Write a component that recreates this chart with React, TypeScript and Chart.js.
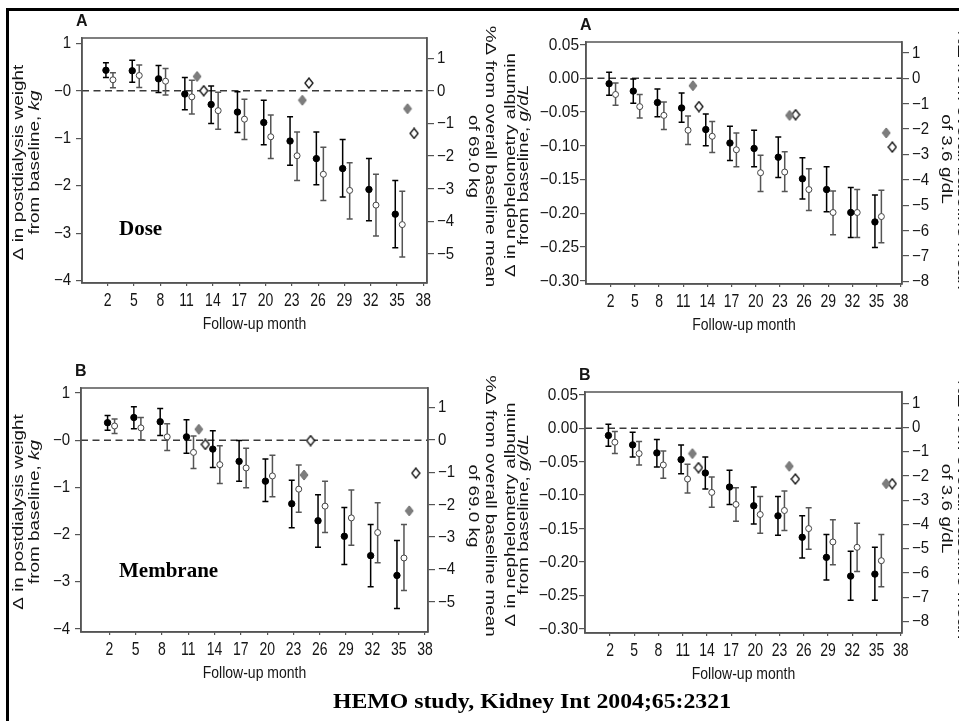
import React, { useEffect, useRef } from "react";
import { Chart, registerables } from "chart.js";

Chart.register(...registerables);

// ---------------- DATA ----------------
const months = [2, 5, 8, 11, 14, 17, 20, 23, 26, 29, 32, 35];
const diamondMonths = [12, 24, 36];
const xTickValues = [2, 5, 8, 11, 14, 17, 20, 23, 26, 29, 32, 35, 38];
const xTickLabels = ["2", "5", "8", "11", "14", "17", "20", "23", "26", "29", "32", "35", "38"];

const weightTicks = [1, 0, -1, -2, -3, -4];
const weightTickLabels = ["1", "\u22120", "\u22121", "\u22122", "\u22123", "\u22124"];
const weightPctTicks = [1, 0, -1, -2, -3, -4, -5];
const weightPctTickLabels = ["1", "0", "\u22121", "\u22122", "\u22123", "\u22124", "\u22125"];
const albTicks = [0.05, 0, -0.05, -0.1, -0.15, -0.2, -0.25, -0.3];
const albTickLabels = ["0.05", "0.00", "\u22120.05", "\u22120.10", "\u22120.15", "\u22120.20", "\u22120.25", "\u22120.30"];
const albPctTicks = [1, 0, -1, -2, -3, -4, -5, -6, -7, -8];
const albPctTickLabels = ["1", "0", "\u22121", "\u22122", "\u22123", "\u22124", "\u22125", "\u22126", "\u22127", "\u22128"];

// Panel A (Dose) - postdialysis weight, kg
const doseWeightFilled = [0.43, 0.42, 0.25, -0.07, -0.29, -0.45, -0.67, -1.06, -1.43, -1.64, -2.08, -2.6];
const doseWeightFilledLow = [0.28, 0.18, -0.04, -0.4, -0.69, -0.88, -1.14, -1.57, -1.98, -2.24, -2.74, -3.31];
const doseWeightFilledHigh = [0.59, 0.64, 0.53, 0.28, 0.1, -0.02, -0.2, -0.55, -0.87, -1.03, -1.43, -1.89];
const doseWeightOpen = [0.23, 0.32, 0.2, -0.13, -0.42, -0.6, -0.97, -1.37, -1.76, -2.1, -2.41, -2.82];
const doseWeightOpenLow = [0.06, 0.07, -0.09, -0.49, -0.81, -1.03, -1.43, -1.89, -2.31, -2.7, -3.06, -3.5];
const doseWeightOpenHigh = [0.38, 0.54, 0.47, 0.22, -0.03, -0.18, -0.51, -0.87, -1.19, -1.52, -1.76, -2.12];
const doseWeightDiamondGray = [0.3, -0.2, -0.38];
const doseWeightDiamondOpen = [0.0, 0.16, -0.9];

// Panel A (Dose) - nephelometry albumin, g/dL
const doseAlbFilled = [-0.008, -0.019, -0.036, -0.044, -0.076, -0.096, -0.104, -0.117, -0.149, -0.165, -0.199, -0.213];
const doseAlbFilledLow = [-0.025, -0.037, -0.057, -0.065, -0.1, -0.122, -0.131, -0.147, -0.179, -0.198, -0.236, -0.251];
const doseAlbFilledHigh = [0.009, -0.001, -0.016, -0.022, -0.053, -0.071, -0.077, -0.087, -0.118, -0.131, -0.162, -0.173];
const doseAlbOpen = [-0.024, -0.042, -0.055, -0.077, -0.086, -0.106, -0.14, -0.139, -0.165, -0.199, -0.199, -0.205];
const doseAlbOpenLow = [-0.04, -0.059, -0.076, -0.098, -0.11, -0.131, -0.168, -0.168, -0.196, -0.232, -0.236, -0.244];
const doseAlbOpenHigh = [-0.007, -0.024, -0.035, -0.056, -0.064, -0.081, -0.114, -0.109, -0.134, -0.167, -0.165, -0.166];
const doseAlbDiamondGray = [-0.011, -0.055, -0.081];
const doseAlbDiamondOpen = [-0.042, -0.054, -0.102];

// Panel B (Membrane) - postdialysis weight, kg
const memWeightFilled = [0.37, 0.48, 0.39, 0.07, -0.19, -0.45, -0.87, -1.35, -1.71, -2.04, -2.45, -2.87];
const memWeightFilledLow = [0.21, 0.24, 0.1, -0.28, -0.58, -0.87, -1.3, -1.86, -2.27, -2.64, -3.11, -3.57];
const memWeightFilledHigh = [0.52, 0.71, 0.67, 0.43, 0.2, -0.01, -0.4, -0.85, -1.16, -1.43, -1.79, -2.13];
const memWeightOpen = [0.3, 0.26, 0.07, -0.26, -0.52, -0.59, -0.76, -1.04, -1.4, -1.65, -1.96, -2.5];
const memWeightOpenLow = [0.14, 0.01, -0.22, -0.6, -0.92, -1.01, -1.2, -1.53, -1.96, -2.23, -2.6, -3.19];
const memWeightOpenHigh = [0.45, 0.48, 0.35, 0.09, -0.12, -0.17, -0.32, -0.53, -0.87, -1.06, -1.33, -1.79];
const memWeightDiamondGray = [0.23, -0.74, -1.5];
const memWeightDiamondOpen = [-0.09, -0.01, -0.7];

// Panel B (Membrane) - nephelometry albumin, g/dL
const memAlbFilled = [-0.011, -0.025, -0.037, -0.047, -0.067, -0.088, -0.116, -0.131, -0.163, -0.193, -0.221, -0.218];
const memAlbFilledLow = [-0.027, -0.043, -0.058, -0.068, -0.091, -0.114, -0.143, -0.16, -0.194, -0.227, -0.257, -0.257];
const memAlbFilledHigh = [0.006, -0.006, -0.017, -0.025, -0.043, -0.063, -0.088, -0.102, -0.131, -0.159, -0.184, -0.178];
const memAlbOpen = [-0.021, -0.038, -0.055, -0.076, -0.096, -0.114, -0.129, -0.123, -0.15, -0.17, -0.178, -0.198];
const memAlbOpenLow = [-0.038, -0.055, -0.075, -0.097, -0.118, -0.139, -0.157, -0.153, -0.181, -0.204, -0.214, -0.237];
const memAlbOpenHigh = [-0.005, -0.02, -0.034, -0.054, -0.073, -0.089, -0.102, -0.094, -0.119, -0.137, -0.142, -0.159];
const memAlbDiamondGray = [-0.038, -0.057, -0.083];
const memAlbDiamondOpen = [-0.059, -0.076, -0.083];

// ---------------- STYLE ----------------
const TEXT = "#151515";
const AXIS = "#555";
const SANS = '"Liberation Sans", Arial, Helvetica, sans-serif';
const SERIF = '"Liberation Serif", "Times New Roman", serif';
const OFF_FILLED = -0.2;
const OFF_OPEN = 0.6;
const OFF_DGRAY = 0.2;
const OFF_DOPEN = 0.95;

type Seg = { t: string; italic?: boolean };

interface PanelSpec {
  key: string;
  canvas: { x: number; y: number; w: number; h: number };
  area: { L: number; T: number; R: number; B: number };
  xRange: [number, number];
  yRange: [number, number];
  y2Range: [number, number];
  yTicks: number[];
  yLabels: string[];
  yFont: number;
  yGap: number;
  y2Ticks: number[];
  y2Labels: string[];
  filled: number[];
  filledLow: number[];
  filledHigh: number[];
  open: number[];
  openLow: number[];
  openHigh: number[];
  dGray: number[];
  dOpen: number[];
  letter: string;
  leftTitle: Seg[][];
  leftOff: [number, number];
  rightTitle: Seg[][];
  rightOff: [number, number];
  tag?: { text: string; x: number; base: number };
}

const panels: PanelSpec[] = [
  {
    key: "tl",
    canvas: { x: 0, y: 0, w: 505, h: 345 },
    area: { L: 82, T: 38, R: 427, B: 283 },
    xRange: [-0.93, 38.42],
    yRange: [-4.05, 1.11],
    y2Range: [-5.89, 1.62],
    yTicks: weightTicks, yLabels: weightTickLabels, yFont: 15, yGap: 11,
    y2Ticks: weightPctTicks, y2Labels: weightPctTickLabels,
    filled: doseWeightFilled, filledLow: doseWeightFilledLow, filledHigh: doseWeightFilledHigh,
    open: doseWeightOpen, openLow: doseWeightOpenLow, openHigh: doseWeightOpenHigh,
    dGray: doseWeightDiamondGray, dOpen: doseWeightDiamondOpen,
    letter: "A",
    leftTitle: [[{ t: "\u0394 in postdialysis weight" }], [{ t: "from baseline, " }, { t: "kg", italic: true }]],
    leftOff: [63, 47],
    rightTitle: [[{ t: "%\u0394 from overall baseline mean" }], [{ t: "of 69.0 kg" }]],
    rightOff: [63, 46],
    tag: { text: "Dose", x: 119, base: 235 },
  },
  {
    key: "tr",
    canvas: { x: 480, y: 0, w: 479, h: 345 },
    area: { L: 586, T: 42, R: 902, B: 284 },
    xRange: [-1.07, 38.16],
    yRange: [-0.305, 0.0538],
    y2Range: [-8.1, 1.43],
    yTicks: albTicks, yLabels: albTickLabels, yFont: 15.5, yGap: 7,
    y2Ticks: albPctTicks, y2Labels: albPctTickLabels,
    filled: doseAlbFilled, filledLow: doseAlbFilledLow, filledHigh: doseAlbFilledHigh,
    open: doseAlbOpen, openLow: doseAlbOpenLow, openHigh: doseAlbOpenHigh,
    dGray: doseAlbDiamondGray, dOpen: doseAlbDiamondOpen,
    letter: "A",
    leftTitle: [[{ t: "\u0394 in nephelometry albumin" }], [{ t: "from baseline, " }, { t: "g/dL", italic: true }]],
    leftOff: [75, 62],
    rightTitle: [[{ t: "%\u0394 from overall baseline mean" }], [{ t: "of 3.6 g/dL" }]],
    rightOff: [60, 44],
  },
  {
    key: "bl",
    canvas: { x: 0, y: 345, w: 505, h: 376 },
    area: { L: 81, T: 388, R: 428, B: 632 },
    xRange: [-1.23, 38.34],
    yRange: [-4.07, 1.106],
    y2Range: [-5.93, 1.6],
    yTicks: weightTicks, yLabels: weightTickLabels, yFont: 15, yGap: 11,
    y2Ticks: weightPctTicks, y2Labels: weightPctTickLabels,
    filled: memWeightFilled, filledLow: memWeightFilledLow, filledHigh: memWeightFilledHigh,
    open: memWeightOpen, openLow: memWeightOpenLow, openHigh: memWeightOpenHigh,
    dGray: memWeightDiamondGray, dOpen: memWeightDiamondOpen,
    letter: "B",
    leftTitle: [[{ t: "\u0394 in postdialysis weight" }], [{ t: "from baseline, " }, { t: "kg", italic: true }]],
    leftOff: [62, 46],
    rightTitle: [[{ t: "%\u0394 from overall baseline mean" }], [{ t: "of 69.0 kg" }]],
    rightOff: [62, 45],
    tag: { text: "Membrane", x: 119, base: 577 },
  },
  {
    key: "br",
    canvas: { x: 480, y: 345, w: 479, h: 376 },
    area: { L: 585, T: 392, R: 902, B: 633 },
    xRange: [-1.1, 38.16],
    yRange: [-0.306, 0.054],
    y2Range: [-8.48, 1.46],
    yTicks: albTicks, yLabels: albTickLabels, yFont: 15.5, yGap: 7,
    y2Ticks: albPctTicks, y2Labels: albPctTickLabels,
    filled: memAlbFilled, filledLow: memAlbFilledLow, filledHigh: memAlbFilledHigh,
    open: memAlbOpen, openLow: memAlbOpenLow, openHigh: memAlbOpenHigh,
    dGray: memAlbDiamondGray, dOpen: memAlbDiamondOpen,
    letter: "B",
    leftTitle: [[{ t: "\u0394 in nephelometry albumin" }], [{ t: "from baseline, " }, { t: "g/dL", italic: true }]],
    leftOff: [74, 61],
    rightTitle: [[{ t: "%\u0394 from overall baseline mean" }], [{ t: "of 3.6 g/dL" }]],
    rightOff: [60, 44],
  },
];

// ---------------- helpers ----------------
function makeDiamond(fill: string, stroke: string, lw: number) {
  const c = document.createElement("canvas");
  c.width = 10;
  c.height = 12;
  const g = c.getContext("2d")!;
  g.beginPath();
  g.moveTo(5, 1);
  g.lineTo(9, 6);
  g.lineTo(5, 11);
  g.lineTo(1, 6);
  g.closePath();
  g.fillStyle = fill;
  g.fill();
  g.lineWidth = lw;
  g.strokeStyle = stroke;
  g.stroke();
  return c;
}

function drawStretched(
  ctx: CanvasRenderingContext2D, text: string, x: number, y: number,
  align: CanvasTextAlign, baseline: CanvasTextBaseline, font: string, sx: number, sy: number
) {
  ctx.save();
  ctx.translate(x, y);
  ctx.scale(sx, sy);
  ctx.font = font;
  ctx.textAlign = align;
  ctx.textBaseline = baseline;
  ctx.fillText(text, 0, 0);
  ctx.restore();
}

function drawRotatedRich(
  ctx: CanvasRenderingContext2D, segs: Seg[], cx: number, cy: number, angle: number, stretch: number, size: number
) {
  ctx.save();
  ctx.translate(cx, cy);
  ctx.rotate(angle);
  ctx.scale(stretch, 1);
  ctx.textBaseline = "middle";
  ctx.textAlign = "left";
  let total = 0;
  const fonts = segs.map((s) => `${s.italic ? "italic " : ""}${size}px ${SANS}`);
  const widths = segs.map((s, i) => {
    ctx.font = fonts[i];
    const w = ctx.measureText(s.t).width;
    total += w;
    return w;
  });
  let x = -total / 2;
  segs.forEach((s, i) => {
    ctx.font = fonts[i];
    ctx.fillText(s.t, x, 0);
    x += widths[i];
  });
  ctx.restore();
}

function buildConfig(spec: PanelSpec): any {
  const { canvas, area } = spec;
  const grayD = makeDiamond("#7d7d7d", "#6f6f6f", 1);
  const openD = makeDiamond("#ffffff", "#111111", 1.3);

  const panelPlugin = {
    id: "panelDecor_" + spec.key,
    beforeDatasetsDraw(chart: any) {
      const ctx: CanvasRenderingContext2D = chart.ctx;
      const { left, right } = chart.chartArea;
      const ys = chart.scales.y;
      const xs = chart.scales.x;
      // zero reference line
      ctx.save();
      ctx.strokeStyle = "#3a3a3a";
      ctx.lineWidth = 1.5;
      ctx.setLineDash([7, 4.5]);
      const y0 = ys.getPixelForValue(0);
      ctx.beginPath();
      ctx.moveTo(left, y0);
      ctx.lineTo(right, y0);
      ctx.stroke();
      ctx.restore();
      // error bars
      chart.data.datasets.forEach((ds: any) => {
        if (!ds.errLow) return;
        ctx.save();
        ctx.strokeStyle = ds.errColor;
        ctx.lineWidth = 1.5;
        ds.data.forEach((p: any, i: number) => {
          const px = xs.getPixelForValue(p.x);
          const pl = ys.getPixelForValue(ds.errLow[i]);
          const ph = ys.getPixelForValue(ds.errHigh[i]);
          ctx.beginPath();
          ctx.moveTo(px, ph);
          ctx.lineTo(px, pl);
          ctx.moveTo(px - 3, ph);
          ctx.lineTo(px + 3, ph);
          ctx.moveTo(px - 3, pl);
          ctx.lineTo(px + 3, pl);
          ctx.stroke();
        });
        ctx.restore();
      });
    },
    afterDraw(chart: any) {
      const ctx: CanvasRenderingContext2D = chart.ctx;
      const { left, right, top, bottom } = chart.chartArea;
      const xs = chart.scales.x;
      const ys = chart.scales.y;
      const y2 = chart.scales.y2;
      // plot frame
      ctx.save();
      ctx.strokeStyle = AXIS;
      ctx.lineWidth = 1.5;
      ctx.strokeRect(left, top, right - left, bottom - top);
      ctx.restore();

      ctx.save();
      ctx.fillStyle = TEXT;
      const yFont = `${spec.yFont}px ${SANS}`;
      spec.yTicks.forEach((v, i) => {
        drawStretched(ctx, spec.yLabels[i], left - spec.yGap, ys.getPixelForValue(v) + 0.5, "right", "middle", yFont, 1, 1.04);
      });
      const y2Font = `15px ${SANS}`;
      spec.y2Ticks.forEach((v, i) => {
        drawStretched(ctx, spec.y2Labels[i], right + 10, y2.getPixelForValue(v) + 0.5, "left", "middle", y2Font, 1, 1.05);
      });
      const xFont = `14px ${SANS}`;
      xTickValues.forEach((v, i) => {
        drawStretched(ctx, xTickLabels[i], xs.getPixelForValue(v), bottom + 23, "center", "alphabetic", xFont, 1, 1.3);
      });
      // x title
      drawStretched(ctx, "Follow-up month", (left + right) / 2, bottom + 46, "center", "alphabetic", `14px ${SANS}`, 1, 1.2);
      // y titles
      const cy = (top + bottom) / 2;
      spec.leftTitle.forEach((line, i) => {
        drawRotatedRich(ctx, line, left - spec.leftOff[i], cy + 2, -Math.PI / 2, 1.35, 14);
      });
      spec.rightTitle.forEach((line, i) => {
        drawRotatedRich(ctx, line, right + spec.rightOff[i], cy - 4, Math.PI / 2, 1.35, 14);
      });
      // panel letter
      drawStretched(ctx, spec.letter, left - 6, top - 12, "left", "alphabetic", `bold 16px ${SANS}`, 1, 1.05);
      // panel tag
      if (spec.tag) {
        ctx.font = `bold 21px ${SERIF}`;
        ctx.fillStyle = "#000";
        ctx.textAlign = "left";
        ctx.textBaseline = "alphabetic";
        ctx.fillText(spec.tag.text, spec.tag.x - canvas.x, spec.tag.base - canvas.y);
      }
      ctx.restore();
    },
  };

  const axisGrid = (len: number) => ({
    drawOnChartArea: false,
    drawTicks: true,
    tickLength: len,
    color: AXIS,
    lineWidth: 1.2,
  });
  const border = { display: true, color: AXIS, width: 1.5 };

  return {
    type: "scatter",
    data: {
      datasets: [
        {
          label: "filled",
          data: months.map((m, i) => ({ x: m + OFF_FILLED, y: spec.filled[i] })),
          errLow: spec.filledLow,
          errHigh: spec.filledHigh,
          errColor: "#000",
          pointRadius: 3.2,
          pointBackgroundColor: "#000",
          pointBorderColor: "#000",
          pointBorderWidth: 1,
        },
        {
          label: "open",
          data: months.map((m, i) => ({ x: m + OFF_OPEN, y: spec.open[i] })),
          errLow: spec.openLow,
          errHigh: spec.openHigh,
          errColor: "#555",
          pointRadius: 3,
          pointBackgroundColor: "#fff",
          pointBorderColor: "#444",
          pointBorderWidth: 1,
        },
        {
          label: "annual gray",
          data: diamondMonths.map((m, i) => ({ x: m + OFF_DGRAY, y: spec.dGray[i] })),
          pointStyle: grayD,
          pointRadius: 5,
        },
        {
          label: "annual open",
          data: diamondMonths.map((m, i) => ({ x: m + OFF_DOPEN, y: spec.dOpen[i] })),
          pointStyle: openD,
          pointRadius: 5,
        },
      ],
    },
    options: {
      animation: false,
      responsive: false,
      devicePixelRatio: 1,
      events: [],
      layout: { padding: { top: area.T - canvas.y, left: 0, right: 0, bottom: 0 } },
      plugins: { legend: { display: false }, tooltip: { enabled: false }, title: { display: false } },
      scales: {
        x: {
          type: "linear",
          min: spec.xRange[0],
          max: spec.xRange[1],
          afterBuildTicks: (s: any) => {
            s.ticks = xTickValues.map((v) => ({ value: v }));
          },
          afterFit: (s: any) => {
            s.height = canvas.y + canvas.h - area.B;
          },
          ticks: { display: false },
          grid: axisGrid(3),
          border,
        },
        y: {
          type: "linear",
          position: "left",
          min: spec.yRange[0],
          max: spec.yRange[1],
          afterBuildTicks: (s: any) => {
            s.ticks = spec.yTicks.map((v) => ({ value: v }));
          },
          afterFit: (s: any) => {
            s.width = area.L - canvas.x;
          },
          ticks: { display: false },
          grid: axisGrid(6),
          border,
        },
        y2: {
          type: "linear",
          position: "right",
          min: spec.y2Range[0],
          max: spec.y2Range[1],
          afterBuildTicks: (s: any) => {
            s.ticks = spec.y2Ticks.map((v) => ({ value: v }));
          },
          afterFit: (s: any) => {
            s.width = canvas.x + canvas.w - area.R;
          },
          ticks: { display: false },
          grid: axisGrid(7),
          border,
        },
      },
    },
    plugins: [panelPlugin],
  };
}

function Panel({ spec }: { spec: PanelSpec }) {
  const ref = useRef<HTMLCanvasElement>(null);
  useEffect(() => {
    const chart = new Chart(ref.current as HTMLCanvasElement, buildConfig(spec));
    return () => chart.destroy();
  }, [spec]);
  return (
    <canvas
      ref={ref}
      width={spec.canvas.w}
      height={spec.canvas.h}
      style={{
        position: "absolute",
        left: spec.canvas.x,
        top: spec.canvas.y,
        width: spec.canvas.w,
        height: spec.canvas.h,
      }}
    />
  );
}

export default function App() {
  return (
    <div
      style={{
        position: "absolute",
        left: 0,
        top: 0,
        width: 959,
        height: 721,
        background: "#fff",
        overflow: "hidden",
      }}
    >
      <div style={{ position: "absolute", left: 6, top: 8, width: 953, height: 3, background: "#000" }} />
      <div style={{ position: "absolute", left: 6, top: 8, width: 3, height: 713, background: "#000" }} />
      {panels.map((p) => (
        <Panel key={p.key} spec={p} />
      ))}
      <div
        style={{
          position: "absolute",
          left: 532,
          top: 690,
          whiteSpace: "nowrap",
          font: `bold 22px ${SERIF}`,
          lineHeight: "22px",
          color: "#000",
          transform: "translateX(-50%) scaleX(1.08)",
        }}
      >
        HEMO study, Kidney Int 2004;65:2321
      </div>
    </div>
  );
}
